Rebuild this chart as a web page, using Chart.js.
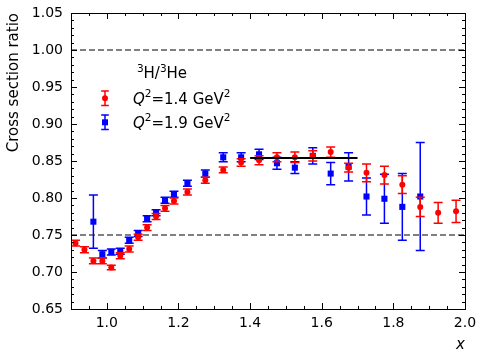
<!DOCTYPE html>
<html>
<head>
<meta charset="utf-8">
<script src="https://cdn.jsdelivr.net/npm/chart.js@4.4.1/dist/chart.umd.min.js"></script>
<style>
  html, body { margin: 0; padding: 0; background: #fff; }
</style>
</head>
<body>
<canvas id="ratioChart" width="485" height="362"></canvas>
<script>
// Q2 = 1.4 GeV2 (red circles)
const redX = [0.9125, 0.9375, 0.9625, 0.9875, 1.0125, 1.0375, 1.0625, 1.0875, 1.1125, 1.1375, 1.1625, 1.1875,
  1.225, 1.275, 1.325, 1.375, 1.425, 1.475, 1.525, 1.575, 1.625, 1.675, 1.725, 1.775, 1.825, 1.875, 1.925, 1.975];
const redY = [0.739, 0.730, 0.715, 0.715, 0.706, 0.722, 0.731, 0.747, 0.760, 0.775, 0.786, 0.796,
  0.808, 0.824, 0.838, 0.848, 0.851, 0.855, 0.855, 0.857, 0.862, 0.841, 0.834, 0.831, 0.818, 0.788, 0.780, 0.782];
const redErr = [0.004, 0.004, 0.004, 0.004, 0.003, 0.004, 0.004, 0.004, 0.004, 0.004, 0.004, 0.004,
  0.004, 0.004, 0.004, 0.005, 0.006, 0.006, 0.007, 0.007, 0.007, 0.006, 0.012, 0.012, 0.012, 0.013, 0.014, 0.015];

// Q2 = 1.9 GeV2 (blue squares)
const blueX = [0.9625, 0.9875, 1.0125, 1.0375, 1.0625, 1.0875, 1.1125, 1.1375, 1.1625, 1.1875,
  1.225, 1.275, 1.325, 1.375, 1.425, 1.475, 1.525, 1.575, 1.625, 1.675, 1.725, 1.775, 1.825, 1.875];
const blueY = [0.768, 0.724, 0.727, 0.728, 0.743, 0.752, 0.772, 0.780, 0.797, 0.805,
  0.820, 0.833, 0.855, 0.855, 0.859, 0.847, 0.841, 0.857, 0.833, 0.842, 0.802, 0.799, 0.788, 0.802];
const blueErr = [0.036, 0.005, 0.004, 0.004, 0.004, 0.004, 0.004, 0.004, 0.004, 0.004,
  0.004, 0.005, 0.006, 0.006, 0.007, 0.008, 0.008, 0.011, 0.015, 0.019, 0.025, 0.033, 0.045, 0.073];

const refLevels = [1.0, 0.75];
const fitRange = [1.4, 1.7];
const fitValue = 0.854;

const xRange = [0.9, 2.0];
const yRange = [0.65, 1.05];
const xTicks = [1.0, 1.2, 1.4, 1.6, 1.8, 2.0];
const yTicks = [0.65, 0.70, 0.75, 0.80, 0.85, 0.90, 0.95, 1.00, 1.05];

const legendTitle = [{ t: "3", sup: true }, { t: "H/" }, { t: "3", sup: true }, { t: "He" }];
const seriesQ2 = ["1.4", "1.9"];

const FONT = '"DejaVu Sans"';
Chart.defaults.font.family = FONT;
Chart.defaults.color = "#000";

const toPts = (xs, ys) => xs.map((x, i) => ({ x, y: ys[i] }));

const datasets = [];
refLevels.forEach((lv) => {
  datasets.push({ type: "line", data: [{ x: xRange[0], y: lv }, { x: xRange[1], y: lv }], borderColor: "#808080", borderWidth: 2, borderDash: [6, 3], pointRadius: 0, order: 5 });
});
datasets.push({ type: "scatter", data: toPts(blueX, blueY), errors: blueErr, pointStyle: "rect", pointRadius: 4.3, backgroundColor: "#0000ff", borderColor: "#0000ff", pointBorderWidth: 0, order: 2 });
datasets.push({ type: "scatter", data: toPts(redX, redY), errors: redErr, pointStyle: "circle", pointRadius: 3, backgroundColor: "#ff0000", borderColor: "#ff0000", pointBorderWidth: 0, order: 1 });
datasets.push({ type: "line", data: fitRange.map((x) => ({ x, y: fitValue })), borderColor: "#000", borderWidth: 2, pointRadius: 0, order: 0 });

function errBar(ctx, px, y1, y2, cap) {
  ctx.beginPath();
  ctx.moveTo(px, y1); ctx.lineTo(px, y2);
  ctx.moveTo(px - cap, y1); ctx.lineTo(px + cap, y1);
  ctx.moveTo(px - cap, y2); ctx.lineTo(px + cap, y2);
  ctx.stroke();
}

// error bars drawn just under each dataset's markers
const errorBars = {
  id: "errorBars",
  beforeDatasetDraw(chart, args) {
    const ds = chart.data.datasets[args.index];
    if (!ds.errors) return;
    const { ctx, scales: { x, y } } = chart;
    ctx.save();
    ctx.strokeStyle = ds.borderColor;
    ctx.lineWidth = 1.5;
    ds.data.forEach((p, i) => {
      const px = x.getPixelForValue(p.x);
      errBar(ctx, px, y.getPixelForValue(p.y - ds.errors[i]), y.getPixelForValue(p.y + ds.errors[i]), 4.5);
    });
    ctx.restore();
  },
};

// box with inward major/minor ticks on all four sides
const frameTicks = {
  id: "frameTicks",
  afterDraw(chart) {
    const { ctx, chartArea: a, scales: { x, y } } = chart;
    ctx.save();
    ctx.strokeStyle = "#000";
    ctx.lineWidth = 1;
    const r = (v) => Math.round(v) + 0.5;
    ctx.beginPath();
    for (let i = 0; i <= 22; i += 1) {
      const v = xRange[0] + i * 0.05;
      const len = (i - 2) % 4 === 0 ? 6 : 3;
      const px = r(x.getPixelForValue(v));
      ctx.moveTo(px, a.bottom); ctx.lineTo(px, a.bottom - len);
      ctx.moveTo(px, a.top); ctx.lineTo(px, a.top + len);
    }
    for (let i = 0; i <= 40; i += 1) {
      const v = yRange[0] + i * 0.01;
      const len = i % 5 === 0 ? 6 : 3;
      const py = r(y.getPixelForValue(v));
      ctx.moveTo(a.left, py); ctx.lineTo(a.left + len, py);
      ctx.moveTo(a.right, py); ctx.lineTo(a.right - len, py);
    }
    ctx.stroke();
    ctx.strokeRect(r(a.left), r(a.top), Math.round(a.right - a.left), Math.round(a.bottom - a.top));
    ctx.restore();
  },
};

function drawRich(ctx, parts, x, y, center) {
  const fontFor = (p) => `${p.italic ? "italic " : ""}${p.sup ? 10.5 : 15}px ${FONT}`;
  let w = 0;
  parts.forEach((p) => { ctx.font = fontFor(p); w += ctx.measureText(p.t).width; });
  let cx = center ? x - w / 2 : x;
  parts.forEach((p) => {
    ctx.font = fontFor(p);
    ctx.fillText(p.t, cx, p.sup ? y - 6.5 : y);
    cx += ctx.measureText(p.t).width;
  });
}

const legendBox = {
  id: "legendBox",
  afterDraw(chart) {
    const { ctx, chartArea: a } = chart;
    ctx.save();
    ctx.fillStyle = "#000";
    ctx.textBaseline = "alphabetic";
    drawRich(ctx, legendTitle, a.left + 91, a.top + 65, true);
    const styles = [
      { color: "#ff0000", shape: "circle" },
      { color: "#0000ff", shape: "rect" },
    ];
    seriesQ2.forEach((q, i) => {
      const cy = a.top + 85.3 + i * 24;
      const mx = a.left + 34;
      const s = styles[i];
      ctx.strokeStyle = s.color;
      ctx.fillStyle = s.color;
      ctx.lineWidth = 1.5;
      errBar(ctx, mx, cy - 7.3, cy + 7.3, 3.8);
      ctx.beginPath();
      if (s.shape === "circle") ctx.arc(mx, cy, 3, 0, Math.PI * 2);
      else ctx.rect(mx - 3, cy - 3, 6, 6);
      ctx.fill();
      ctx.fillStyle = "#000";
      drawRich(ctx, [{ t: "Q", italic: true }, { t: "2", sup: true }, { t: `=${q} GeV` }, { t: "2", sup: true }], a.left + 62, cy + 5.5, false);
    });
    ctx.restore();
  },
};

new Chart(document.getElementById("ratioChart"), {
  data: { datasets },
  plugins: [errorBars, frameTicks, legendBox],
  options: {
    responsive: false,
    animation: false,
    devicePixelRatio: 1,
    layout: { padding: { top: 13, right: 20, left: 0, bottom: 0 } },
    plugins: { legend: { display: false }, tooltip: { enabled: false } },
    scales: {
      x: {
        type: "linear",
        min: xRange[0],
        max: xRange[1],
        afterBuildTicks: (s) => { s.ticks = xTicks.map((value) => ({ value })); },
        afterFit: (s) => { s.height = 53; s.paddingLeft = 0; s.paddingRight = 0; },
        ticks: { font: { size: 14 }, padding: 6, callback: (v) => v.toFixed(1) },
        grid: { display: false, drawTicks: false },
        border: { display: false },
        title: { display: true, text: "x", align: "end", font: { size: 15, style: "italic" }, padding: { top: 0, bottom: 8 } },
      },
      y: {
        type: "linear",
        min: yRange[0],
        max: yRange[1],
        afterBuildTicks: (s) => { s.ticks = yTicks.map((value) => ({ value })); },
        afterFit: (s) => { s.width = 71; s.paddingTop = 0; s.paddingBottom = 0; },
        ticks: { font: { size: 14 }, padding: 8, callback: (v) => v.toFixed(2) },
        grid: { display: false, drawTicks: false },
        border: { display: false },
        title: { display: true, text: "Cross section ratio", align: "end", font: { size: 15 }, padding: { top: 5, bottom: 0 } },
      },
    },
  },
});
</script>
</body>
</html>
